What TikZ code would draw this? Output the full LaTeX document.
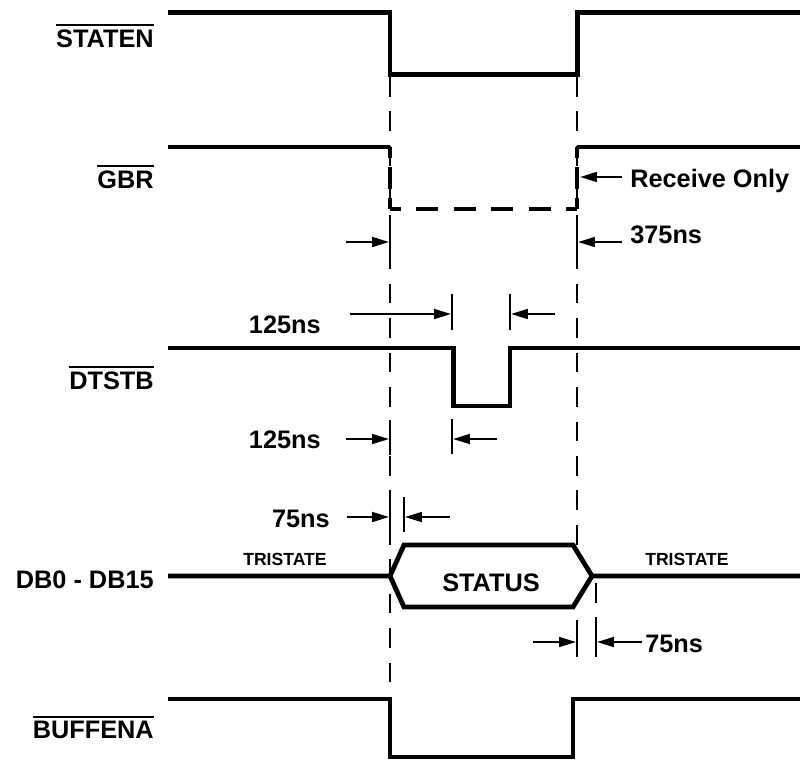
\documentclass[tikz,border=0pt]{standalone}
\usepackage{fontspec}
\setmainfont{Liberation Sans}
\usetikzlibrary{arrows.meta}
% active-low signal name: bar over the text
\newcommand{\barred}[1]{\vbox{\hrule height 1.4pt \kern 2.2pt \hbox{#1}}}
\tikzset{
  wave/.style={line width=3.4pt, line join=miter, line cap=butt},
  wavedashv/.style={wave, dash pattern=on 15pt off 7.05pt, dash phase=7.5pt},
  wavedashh/.style={wave, dash pattern=on 15.6pt off 11pt, dash phase=7.8pt},
  guide/.style={line width=1.5pt, dash pattern=on 14pt off 10.5pt},
  tickmark/.style={line width=1.6pt},
  dimarrow/.style={line width=1.5pt, -{Triangle[length=12pt,width=7pt]}},
  siglabel/.style={font=\fontsize{18}{20}\selectfont\bfseries, inner sep=0pt, anchor=base east},
  timelabel/.style={font=\fontsize{18}{20}\selectfont\bfseries, inner sep=0pt},
  statelabel/.style={font=\fontsize{12.5}{14}\selectfont\bfseries, inner sep=0pt, anchor=base west}
}
\begin{document}
\begin{tikzpicture}[x=0.025cm, y=-0.025cm]
  \useasboundingbox (0,0) rectangle (800,764);

  % signal names
  \node[siglabel] (staten) at (154,47) {\barred{STATEN}};
  \node[siglabel] (gbr) at (154,188) {\barred{GBR}};
  \node[siglabel] (dtstb) at (154,389) {\barred{DTSTB}};
  \node[siglabel] (dbus) at (154,588) {DB0 - DB15};
  \node[siglabel] (buffena) at (154,738) {\barred{BUFFENA}};

  % guide lines
  \draw[guide] (390,77) -- (390,692);
  \draw[guide] (577,77) -- (577,545);
  \draw[guide] (596,583) -- (596,657);

  % STATEN
  \draw[wave] (168,12.5) -- (390,12.5) -- (390,74.5) -- (577.5,74.5)
    -- (577.5,12.5) -- (800,12.5);

  % GBR: receive only part dashed
  \draw[wave] (168,147) -- (390,147);
  \draw[wavedashv] (390,147) -- (390,209);
  \draw[wavedashh] (390,209) -- (577,209);
  \draw[wavedashv] (577,209) -- (577,147);
  \draw[wave] (577,147) -- (800,147);

  % DTSTB
  \draw[wave] (168,348) -- (453.5,348) -- (453.5,406) -- (510,406)
    -- (510,348) -- (800,348);

  % DB0 - DB15
  \draw[wave] (168,576) -- (390,576) -- (404,545) -- (573,545)
    -- (592,576) -- (800,576);
  \draw[wave] (390,576) -- (404,607) -- (573,607) -- (592,576);
  \node[timelabel, anchor=base] (status) at (491,591) {STATUS};
  \node[statelabel] (tri1) at (243,565) {TRISTATE};
  \node[statelabel] (tri2) at (645,565) {TRISTATE};

  % BUFFENA
  \draw[wave] (168,699) -- (390,699) -- (390,757) -- (573,757)
    -- (573,699) -- (800,699);

  % tick marks
  \draw[tickmark] (390,224) -- (390,260);
  \draw[tickmark] (577,224) -- (577,260);
  \draw[tickmark] (452,294) -- (452,330);
  \draw[tickmark] (510,294) -- (510,330);
  \draw[tickmark] (390,420) -- (390,455);
  \draw[tickmark] (452,419) -- (452,454);
  \draw[tickmark] (390,497) -- (390,532);
  \draw[tickmark] (404,497) -- (404,532);
  \draw[tickmark] (577,620) -- (577,657);
  \draw[tickmark] (596,620) -- (596,657);

  % timing labels
  \node[timelabel, anchor=base west] (recv) at (630,187) {Receive Only};
  \node[timelabel, anchor=base west] (t375) at (630,243) {375ns};
  \node[timelabel, anchor=base east] (t125a) at (321,333) {125ns};
  \node[timelabel, anchor=base east] (t125b) at (321,448) {125ns};
  \node[timelabel, anchor=base east] (t75a) at (330,527) {75ns};
  \node[timelabel, anchor=base west] (t75b) at (645,652) {75ns};

  % arrow ends
  \coordinate (recvT) at (622,177);   \coordinate (recvH) at (580,177);
  \coordinate (s375aT) at (346,242);  \coordinate (s375aH) at (389,242);
  \coordinate (s375bT) at (622,242);  \coordinate (s375bH) at (578,242);
  \coordinate (s125aT) at (350,314);  \coordinate (s125aH) at (451,314);
  \coordinate (s125bT) at (555,314);  \coordinate (s125bH) at (511,314);
  \coordinate (s125cT) at (346,439);  \coordinate (s125cH) at (389,439);
  \coordinate (s125dT) at (497,439);  \coordinate (s125dH) at (453,439);
  \coordinate (s75aT) at (347,517);   \coordinate (s75aH) at (389,517);
  \coordinate (s75bT) at (450,517);   \coordinate (s75bH) at (405,517);
  \coordinate (s75cT) at (533,642);   \coordinate (s75cH) at (576,642);
  \coordinate (s75dT) at (642,642);   \coordinate (s75dH) at (597,642);

  % dimension arrows
  \draw[dimarrow] (recvT) -- (recvH);
  \draw[dimarrow] (s375aT) -- (s375aH);
  \draw[dimarrow] (s375bT) -- (s375bH);
  \draw[dimarrow] (s125aT) -- (s125aH);
  \draw[dimarrow] (s125bT) -- (s125bH);
  \draw[dimarrow] (s125cT) -- (s125cH);
  \draw[dimarrow] (s125dT) -- (s125dH);
  \draw[dimarrow] (s75aT) -- (s75aH);
  \draw[dimarrow] (s75bT) -- (s75bH);
  \draw[dimarrow] (s75cT) -- (s75cH);
  \draw[dimarrow] (s75dT) -- (s75dH);
\end{tikzpicture}
\end{document}
